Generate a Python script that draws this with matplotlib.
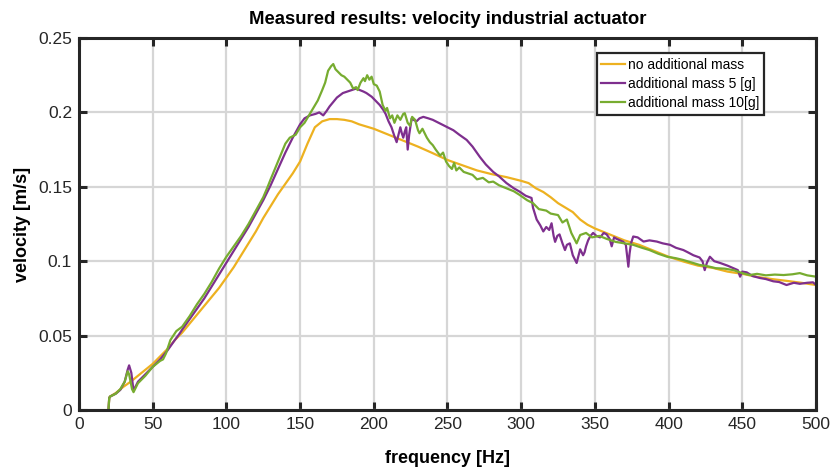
import matplotlib
matplotlib.use("Agg")
import matplotlib.pyplot as plt
import numpy as np

plt.rcParams['font.family'] = ['Liberation Sans', 'DejaVu Sans']

# ---------------- data ----------------
f_none = [20, 20.5, 21, 25, 30, 35, 40, 45, 50, 55, 60, 65, 70, 75, 80, 85, 90, 95, 100,
          105, 110, 115, 120, 125, 130, 135, 140, 145, 150, 155, 160, 165, 170, 175, 180,
          185, 190, 195, 200, 210, 220, 230, 240, 250, 260, 270, 280, 290, 300, 305, 310,
          315, 320, 325, 330, 335, 340, 345, 350, 355, 360, 370, 380, 390, 400, 410, 420,
          430, 440, 450, 460, 470, 480, 490, 500]
v_none = [0.0, 0.008, 0.009, 0.0115, 0.0155, 0.019, 0.023, 0.027, 0.031, 0.036, 0.041,
          0.047, 0.052, 0.058, 0.064, 0.070, 0.076, 0.082, 0.089, 0.096, 0.104, 0.112,
          0.120, 0.129, 0.137, 0.145, 0.152, 0.159, 0.167, 0.179, 0.190, 0.194, 0.1955,
          0.1955, 0.195, 0.194, 0.192, 0.1905, 0.189, 0.185, 0.181, 0.177, 0.1726, 0.168,
          0.1645, 0.161, 0.1585, 0.1565, 0.154, 0.1525, 0.149, 0.1465, 0.143, 0.139, 0.136,
          0.133, 0.128, 0.1245, 0.122, 0.120, 0.118, 0.114, 0.111, 0.107, 0.103, 0.0998,
          0.097, 0.0955, 0.093, 0.0915, 0.0895, 0.088, 0.0868, 0.0855, 0.084]

f_5g = [20, 20.5, 21, 25, 28, 31, 33, 34, 35.5, 37, 40, 45, 50, 55, 60, 65, 68, 70, 75, 80,
        85, 90, 95, 100, 105, 110, 115, 120, 125, 130, 135, 140, 145, 150, 153, 156.7, 160.5,
        163, 165.7, 168, 170, 172.5, 175, 179, 182, 185, 188, 190.6, 193, 195, 198.6, 202,
        204, 206.5, 208, 210, 212, 213, 214, 215.5, 217, 218, 219, 220, 221, 222, 223, 224,
        225.7, 227, 229, 231, 233.6, 237, 240, 243, 247, 250, 254, 258, 263, 267, 272, 276,
        281, 285, 290, 295, 299, 303, 307, 308, 310.5, 313, 315, 317, 319, 320.6, 322, 323,
        324.5, 326, 328, 329.7, 331, 333, 335, 336.5, 337.6, 339, 340, 342, 343, 344, 345.4,
        347, 348.8, 351, 353.5, 356, 358, 360, 361.4, 363, 364.8, 367, 369.3, 371, 372.7,
        373.5, 374.5, 376, 379, 383, 387, 392, 396, 401, 405, 410, 413, 416.8, 421, 423,
        424.5, 426, 428, 431, 435, 440, 444, 447, 448.5, 450, 453, 457, 462, 466, 471, 475,
        480, 485, 489, 494, 498, 500]
v_5g = [0.0, 0.008, 0.009, 0.011, 0.0135, 0.019, 0.027, 0.030, 0.025, 0.013, 0.019, 0.024,
        0.029, 0.034, 0.040, 0.047, 0.051, 0.054, 0.061, 0.068, 0.075, 0.083, 0.091, 0.099,
        0.107, 0.115, 0.123, 0.132, 0.141, 0.151, 0.162, 0.173, 0.183, 0.192, 0.196, 0.198,
        0.199, 0.200, 0.198, 0.201, 0.204, 0.207, 0.210, 0.213, 0.214, 0.215, 0.216, 0.215,
        0.214, 0.213, 0.2105, 0.207, 0.205, 0.2016, 0.199, 0.194, 0.190, 0.187, 0.184, 0.180,
        0.186, 0.190, 0.186, 0.183, 0.187, 0.190, 0.175, 0.185, 0.196, 0.195, 0.194, 0.196,
        0.197, 0.196, 0.195, 0.1935, 0.1915, 0.190, 0.188, 0.185, 0.1815, 0.177, 0.170,
        0.165, 0.160, 0.157, 0.1525, 0.149, 0.1467, 0.144, 0.1425, 0.136, 0.128, 0.124,
        0.120, 0.123, 0.121, 0.1255, 0.117, 0.113, 0.117, 0.118, 0.112, 0.1075, 0.111,
        0.112, 0.104, 0.101, 0.0988, 0.104, 0.108, 0.104, 0.106, 0.110, 0.114, 0.117, 0.119,
        0.117, 0.116, 0.119, 0.118, 0.115, 0.110, 0.116, 0.115, 0.114, 0.113, 0.111, 0.0963,
        0.105, 0.112, 0.1166, 0.116, 0.1132, 0.114, 0.1132, 0.112, 0.111, 0.109, 0.1075,
        0.106, 0.104, 0.1025, 0.100, 0.094, 0.099, 0.103, 0.100, 0.0988, 0.097, 0.0953,
        0.094, 0.0896, 0.093, 0.0925, 0.090, 0.0887, 0.088, 0.0865, 0.086, 0.084, 0.0855,
        0.0848, 0.0855, 0.0858, 0.084]

f_10g = [20, 20.5, 21, 25, 28, 31, 33, 34, 36, 37, 40, 45, 50, 55, 57, 59, 62, 66, 70, 75,
         80, 85, 90, 95, 100, 105, 110, 115, 120, 125, 128, 130, 135, 140, 143, 147, 150,
         153, 156, 159, 162, 165, 167, 169, 171, 172.5, 174, 176, 178, 180, 182, 184, 186,
         188, 189, 191, 193, 194, 195.5, 197, 198.5, 200, 202, 204, 206, 208, 209, 211,
         212.5, 214, 216, 218, 220, 221, 223, 224.6, 226, 228, 230, 231, 233, 236, 238, 240,
         242, 245, 247, 249, 251, 253, 254.5, 256, 258, 261, 264, 267, 270, 274, 278, 281,
         285, 290, 295, 299, 304, 308, 312, 317, 320, 325, 328, 331, 334, 337.6, 340, 344,
         348, 353, 358, 364, 370, 376, 382, 387, 393, 399, 405, 410, 416, 421, 427, 432,
         438, 444, 450, 455, 460, 466, 472, 478, 484, 489, 494, 500]
v_10g = [0.0, 0.008, 0.009, 0.011, 0.014, 0.019, 0.026, 0.024, 0.014, 0.012, 0.018, 0.023,
         0.029, 0.033, 0.034, 0.038, 0.047, 0.053, 0.056, 0.063, 0.071, 0.078, 0.086, 0.095,
         0.103, 0.110, 0.117, 0.125, 0.134, 0.143, 0.150, 0.155, 0.167, 0.179, 0.183, 0.185,
         0.190, 0.193, 0.198, 0.203, 0.208, 0.215, 0.220, 0.228, 0.231, 0.2325, 0.229,
         0.227, 0.225, 0.224, 0.222, 0.220, 0.216, 0.217, 0.215, 0.220, 0.223, 0.221, 0.225,
         0.222, 0.224, 0.219, 0.218, 0.214, 0.205, 0.201, 0.203, 0.196, 0.198, 0.193, 0.198,
         0.195, 0.199, 0.1995, 0.193, 0.191, 0.197, 0.195, 0.188, 0.186, 0.189, 0.183, 0.180,
         0.178, 0.175, 0.171, 0.173, 0.167, 0.164, 0.162, 0.166, 0.161, 0.163, 0.160, 0.159,
         0.158, 0.155, 0.156, 0.153, 0.1535, 0.151, 0.149, 0.147, 0.1445, 0.141, 0.139,
         0.135, 0.134, 0.132, 0.131, 0.126, 0.128, 0.119, 0.112, 0.1176, 0.119, 0.116, 0.117,
         0.115, 0.113, 0.112, 0.111, 0.109, 0.1075, 0.105, 0.103, 0.102, 0.1008, 0.099,
         0.0975, 0.0965, 0.0953, 0.095, 0.094, 0.092, 0.0907, 0.0915, 0.0905, 0.091, 0.0907,
         0.0912, 0.092, 0.0905, 0.0896]

labels = ['no additional mass', 'additional mass 5 [g]', 'additional mass 10[g]']
colors = ['#EDB120', '#7E2F8E', '#77AC30']

x_ticks = [0, 50, 100, 150, 200, 250, 300, 350, 400, 450, 500]
y_ticks = [0, 0.05, 0.1, 0.15, 0.2, 0.25]
y_tick_labels = ['0', '0.05', '0.1', '0.15', '0.2', '0.25']

# ---------------- figure ----------------
W, H = 834, 473
fig = plt.figure(figsize=(W / 100, H / 100), dpi=100)
ax = fig.add_axes([79 / W, (H - 410) / H, (816 - 79) / W, (410 - 38) / H])

for f, v, lab, c in zip([f_none, f_5g, f_10g], [v_none, v_5g, v_10g], labels, colors):
    ax.plot(f, v, color=c, lw=1.6, label=lab)

ax.set_xlim(0, 500)
ax.set_ylim(0, 0.25)
ax.set_xticks(x_ticks)
ax.set_yticks(y_ticks)
ax.set_yticklabels(y_tick_labels)

dark = '#262626'
ax.grid(True, color='#d6d6d6', lw=1.6)
ax.set_axisbelow(True)
for s in ax.spines.values():
    s.set_color(dark)
    s.set_linewidth(2.2)
ax.tick_params(direction='in', length=6, width=2.2, colors=dark, labelsize=12.5,
               top=True, right=True, pad=5)

ax.set_xlabel('frequency [Hz]', fontsize=13, fontweight='bold', color='black', labelpad=13)
ax.set_ylabel('velocity [m/s]', fontsize=13, fontweight='bold', color='black', labelpad=5)
ax.set_title('Measured results: velocity industrial actuator', fontsize=13.3,
             fontweight='bold', color='black', pad=10)

leg = ax.legend(loc='upper right', bbox_to_anchor=(764 / W, (H - 53) / H),
                bbox_transform=fig.transFigure, fontsize=10, frameon=True, fancybox=False,
                handlelength=1.7, handletextpad=0.2, borderpad=0.35, labelspacing=0.37,
                borderaxespad=0)
leg.get_frame().set_edgecolor(dark)
leg.get_frame().set_linewidth(1.6)
leg.get_frame().set_alpha(1)

fig.savefig('out.png', dpi=100)
